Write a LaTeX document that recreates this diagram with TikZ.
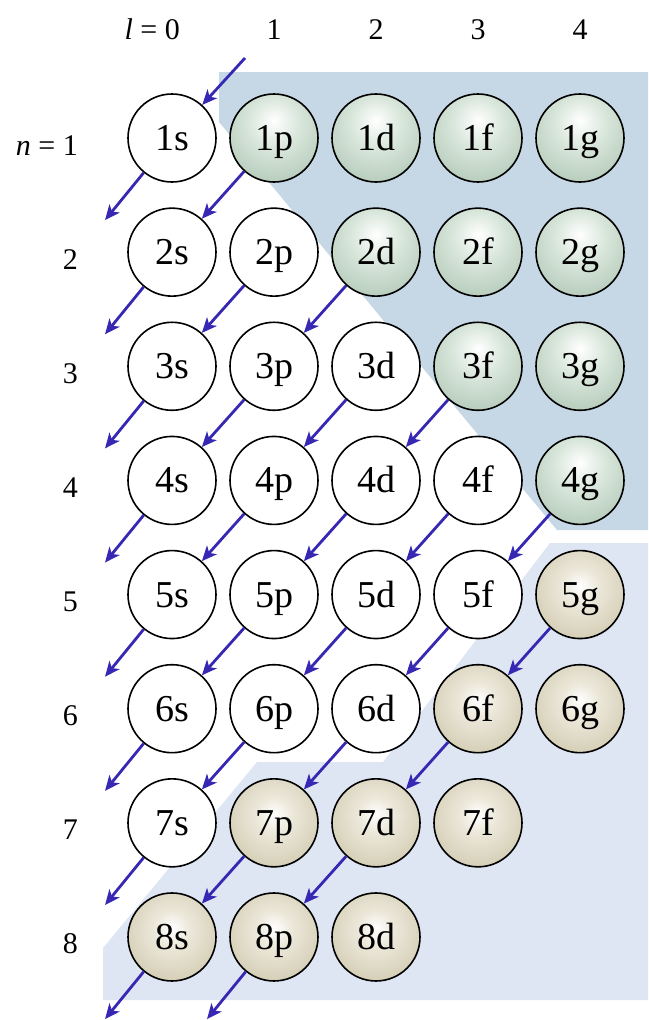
\documentclass[tikz,border=0pt]{standalone}
\usepackage{fontspec}
\setmainfont{Liberation Serif}
\usetikzlibrary{arrows.meta}
\definecolor{darkbg}{RGB}{198,215,229}
\definecolor{lightbg}{RGB}{222,229,243}
\definecolor{gmid}{RGB}{218,231,220}
\definecolor{gedge}{RGB}{130,165,140}
\definecolor{tmid}{RGB}{236,232,218}
\definecolor{tedge}{RGB}{180,170,132}
\definecolor{arrowblue}{RGB}{55,40,180}
\pgfdeclareradialshading{gball}{\pgfpoint{0bp}{10bp}}{color(0bp)=(white); color(14bp)=(gmid); color(60bp)=(gedge); color(100bp)=(gedge)}
\pgfdeclareradialshading{tball}{\pgfpoint{0bp}{5bp}}{color(0bp)=(white); color(10bp)=(tmid); color(56bp)=(tedge); color(100bp)=(tedge)}
\tikzset{
  orb/.style={circle, draw=black, line width=1.6pt, minimum size=88pt, inner sep=0pt,
    font=\fontsize{38}{40}\selectfont, text height=25pt, text depth=0pt},
  orbw/.style={orb, fill=white},
  orbg/.style={orb, shade, shading=gball},
  orbt/.style={orb, shade, shading=tball},
  lab/.style={font=\fontsize{30}{32}\selectfont, inner sep=0pt},
  flow/.style={draw=arrowblue, line width=2.8pt, -{Stealth[length=15pt,width=13pt,inset=4pt]}}
}
\begin{document}
\begin{tikzpicture}[x=1pt,y=-1pt]
\useasboundingbox (0,0) rectangle (648,1020);
% background regions
\fill[darkbg] (219,72) -- (648,72) -- (648,530) -- (557,530) -- (219,122) -- cycle;
\fill[lightbg] (648,543) -- (550,543) -- (383,762) -- (257,762) -- (103,948) -- (103,1000) -- (648,1000) -- cycle;
% column labels
\node[lab, anchor=base east] (l0) at (180,39) {\itshape l\upshape{} = 0};
\node[lab, anchor=base] (l1) at (274,39) {1};
\node[lab, anchor=base] (l2) at (376,39) {2};
\node[lab, anchor=base] (l3) at (478,39) {3};
\node[lab, anchor=base] (l4) at (580,39) {4};
% row labels
\node[lab, anchor=base east] (r1) at (78,155) {\itshape n\upshape{} = 1};
\foreach \n in {2,...,8} {
  \node[lab, anchor=base east] (r\n) at (78,{155+114.14*(\n-1)}) {\n};
}
% orbitals
\foreach \n/\l/\t/\lab in {
  1/0/w/1s, 1/1/g/1p, 1/2/g/1d, 1/3/g/1f, 1/4/g/1g,
  2/0/w/2s, 2/1/w/2p, 2/2/g/2d, 2/3/g/2f, 2/4/g/2g,
  3/0/w/3s, 3/1/w/3p, 3/2/w/3d, 3/3/g/3f, 3/4/g/3g,
  4/0/w/4s, 4/1/w/4p, 4/2/w/4d, 4/3/w/4f, 4/4/g/4g,
  5/0/w/5s, 5/1/w/5p, 5/2/w/5d, 5/3/w/5f, 5/4/t/5g,
  6/0/w/6s, 6/1/w/6p, 6/2/w/6d, 6/3/t/6f, 6/4/t/6g,
  7/0/w/7s, 7/1/t/7p, 7/2/t/7d, 7/3/t/7f,
  8/0/t/8s, 8/1/t/8p, 8/2/t/8d} {
  \node[orb\t] (c\n\l) at ({172+102*\l},{138+114.14*(\n-1)}) {\lab};
}
% free arrow ends
\coordinate (t0) at (245,58);
\foreach \n in {1,...,8} {
  \coordinate (e\n) at (105,{138+114.14*\n-32});
}
\coordinate (e9) at (207,{138+114.14*8-32});
% arrows
\draw[flow] (t0) -- (c10);
\foreach \a/\b in {c10/e1, c11/c20, c20/e2, c21/c30, c22/c31, c30/e3, c31/c40, c32/c41, c33/c42,
  c40/e4, c41/c50, c42/c51, c43/c52, c44/c53, c50/e5, c51/c60, c52/c61, c53/c62, c54/c63,
  c60/e6, c61/c70, c62/c71, c63/c72, c70/e7, c71/c80, c72/c81, c80/e8, c81/e9} {
  \draw[flow] (\a) -- (\b);
}
\end{tikzpicture}
\end{document}
